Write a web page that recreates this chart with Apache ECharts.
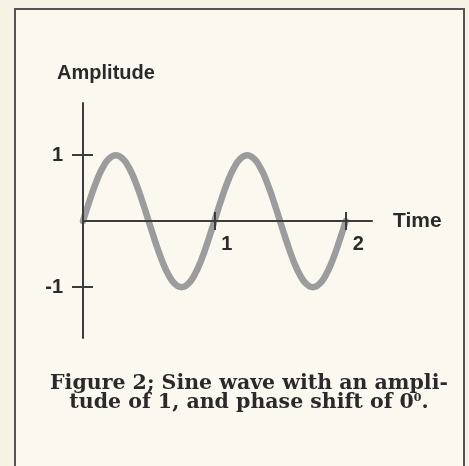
<!DOCTYPE html>
<html>
<head>
<meta charset="utf-8">
<script src="https://cdn.jsdelivr.net/npm/echarts@6/dist/echarts.min.js"></script>
<style>
  html, body { margin: 0; padding: 0; background: #f6f2e4; }
  #frame {
    position: absolute; left: 14px; top: 8px; width: 447px; height: 470px;
    border: 2px solid #555; background: #fbf9ef;
  }
  #chart { position: absolute; left: 0; top: 0; width: 469px; height: 466px; }
</style>
</head>
<body>
<div id="frame"></div>
<div id="chart"></div>
<script>
// time (two periods) and amplitude
var times = [0, 0.05, 0.1, 0.15, 0.2, 0.25, 0.3, 0.35, 0.4, 0.45, 0.5,
             0.55, 0.6, 0.65, 0.7, 0.75, 0.8, 0.85, 0.9, 0.95, 1,
             1.05, 1.1, 1.15, 1.2, 1.25, 1.3, 1.35, 1.4, 1.45, 1.5,
             1.55, 1.6, 1.65, 1.7, 1.75, 1.8, 1.85, 1.9, 1.95, 2];
var amplitude = [0, 0.31, 0.59, 0.81, 0.95, 1, 0.95, 0.81, 0.59, 0.31, 0,
                 -0.31, -0.59, -0.81, -0.95, -1, -0.95, -0.81, -0.59, -0.31, 0,
                 0.31, 0.59, 0.81, 0.95, 1, 0.95, 0.81, 0.59, 0.31, 0,
                 -0.31, -0.59, -0.81, -0.95, -1, -0.95, -0.81, -0.59, -0.31, 0];
var xTicks = [1, 2];
var yTicks = [-1, 1];

var ink = '#2a2a2a';
var axisColor = '#3c3c3c';
var sans = 'Liberation Sans';
// the time axis sits on amplitude 0: move it up from the grid bottom
var zeroOffset = -117;

const myChart = echarts.init(document.getElementById('chart'));

let option = {
  animation: false,
  title: {
    text: 'Figure 2; Sine wave with an ampli-\ntude of 1, and phase shift of 0{sup|0}.',
    left: 244,
    top: 369,
    textAlign: 'center',
    textStyle: {
      fontFamily: 'DejaVu Serif',
      fontWeight: 'bold',
      fontSize: 20.5,
      lineHeight: 19,
      color: ink,
      rich: {
        sup: { fontFamily: 'DejaVu Serif', fontWeight: 'bold', fontSize: 11, verticalAlign: 'top', lineHeight: 11, color: ink }
      }
    }
  },
  grid: { left: 83, top: 103, width: 289, height: 235 },
  xAxis: [{
    type: 'value',
    min: 0,
    max: 2.2,
    position: 'bottom',
    offset: zeroOffset,
    z: 5,
    name: 'Time',
    nameLocation: 'end',
    nameGap: 21,
    nameTextStyle: { fontFamily: sans, fontWeight: 'bold', fontSize: 21, color: ink, verticalAlign: 'middle', padding: [5, 0, 0, 0] },
    axisLine: { onZero: false, lineStyle: { color: axisColor, width: 2 } },
    axisTick: { customValues: xTicks, length: 9, lineStyle: { color: axisColor, width: 2 } },
    axisLabel: { customValues: xTicks, align: 'left', padding: [0, 0, 0, 7], margin: 13, fontFamily: sans, fontWeight: 'bold', fontSize: 20, color: ink },
    splitLine: { show: false }
  }, {
    type: 'value',
    min: 0,
    max: 2.2,
    position: 'bottom',
    offset: zeroOffset,
    z: 5,
    axisLine: { onZero: false, lineStyle: { color: 'transparent' } },
    axisTick: { customValues: xTicks, inside: true, length: 9, lineStyle: { color: axisColor, width: 2 } },
    axisLabel: { show: false },
    splitLine: { show: false }
  }],
  yAxis: [{
    type: 'value',
    min: -1.77,
    max: 1.79,
    position: 'left',
    z: 5,
    name: 'Amplitude',
    nameLocation: 'end',
    nameGap: 20,
    nameTextStyle: { fontFamily: sans, fontWeight: 'bold', fontSize: 20, color: ink, align: 'center', padding: [0, 0, 0, 46] },
    axisLine: { show: true, onZero: false, lineStyle: { color: axisColor, width: 2 } },
    axisTick: { show: true, customValues: yTicks, length: 11, lineStyle: { color: axisColor, width: 2 } },
    axisLabel: { customValues: yTicks, margin: 20, fontFamily: sans, fontWeight: 'bold', fontSize: 20, color: ink },
    splitLine: { show: false }
  }, {
    type: 'value',
    min: -1.77,
    max: 1.79,
    position: 'left',
    z: 5,
    axisLine: { show: false, onZero: false },
    axisTick: { show: true, customValues: yTicks, inside: true, length: 10, lineStyle: { color: axisColor, width: 2 } },
    axisLabel: { show: false },
    splitLine: { show: false }
  }],
  series: [{
    type: 'line',
    data: times.map((t, i) => [t, amplitude[i]]),
    smooth: true,
    showSymbol: false,
    symbol: 'none',
    lineStyle: { color: '#9c9c9c', width: 6.5, cap: 'round' },
    z: 1
  }]
};

myChart.setOption(option);
</script>
</body>
</html>
